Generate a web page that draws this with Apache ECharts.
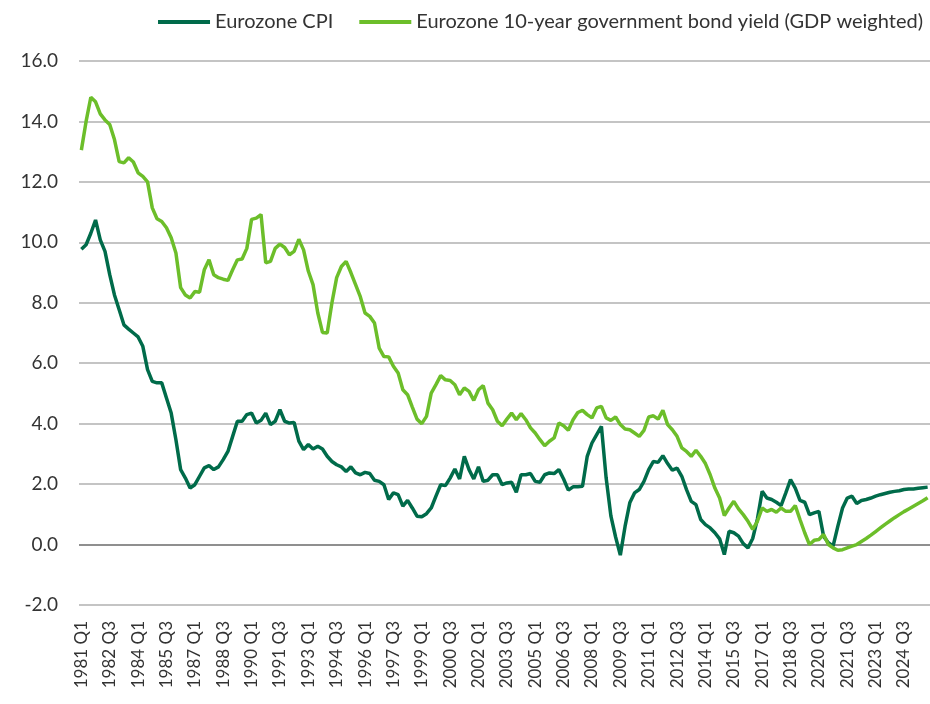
<!DOCTYPE html>
<html>
<head>
<meta charset="utf-8">
<script src="https://cdn.jsdelivr.net/npm/echarts@6/dist/echarts.min.js"></script>
<style>
  html, body { margin: 0; padding: 0; background: #fff; }
  #chart { width: 930px; height: 704px; }
</style>
</head>
<body>
<div id="chart"></div>
<script>
// quarters 1981 Q1 .. 2025 Q4
let quarters = []
for (let y = 1981; y <= 2025; y++) {
  for (let q = 1; q <= 4; q++) quarters.push(y + ' Q' + q)
}

let seriesNames = ['Eurozone CPI', 'Eurozone 10-year government bond yield (GDP weighted)']

let cpi = [
  9.77, 9.92, 10.3, 10.74, 10.08, 9.7, 8.93, 8.26, 7.77, 7.27,
  7.13, 7.0, 6.87, 6.56, 5.79, 5.4, 5.35, 5.35, 4.85, 4.35,
  3.47, 2.48, 2.2, 1.87, 1.98, 2.26, 2.54, 2.61, 2.48, 2.57,
  2.81, 3.08, 3.58, 4.08, 4.08, 4.3, 4.35, 4.02, 4.11, 4.35,
  3.97, 4.08, 4.46, 4.08, 4.02, 4.04, 3.42, 3.14, 3.31, 3.16,
  3.25, 3.16, 2.92, 2.75, 2.64, 2.57, 2.42, 2.57, 2.37, 2.31,
  2.39, 2.35, 2.13, 2.09, 1.98, 1.49, 1.71, 1.65, 1.27, 1.46,
  1.21, 0.94, 0.92, 1.02, 1.21, 1.6, 1.98, 1.95, 2.2, 2.5,
  2.17, 2.92, 2.48, 2.17, 2.57, 2.09, 2.13, 2.31, 2.31, 1.98,
  2.04, 2.06, 1.73, 2.31, 2.31, 2.35, 2.09, 2.06, 2.31, 2.37,
  2.35, 2.48, 2.17, 1.8, 1.91, 1.91, 1.93, 2.92, 3.36, 3.64,
  3.91, 2.2, 0.95, 0.25, -0.35, 0.6, 1.38, 1.71, 1.82, 2.09,
  2.48, 2.75, 2.72, 2.94, 2.68, 2.46, 2.53, 2.26, 1.82, 1.43,
  1.32, 0.83, 0.66, 0.55, 0.39, 0.19, -0.33, 0.44, 0.39, 0.28,
  0.03, -0.11, 0.2, 0.85, 1.76, 1.54, 1.49, 1.4, 1.29, 1.71,
  2.15, 1.87, 1.46, 1.4, 0.99, 1.05, 1.1, 0.27, 0.06, -0.05,
  0.6, 1.21, 1.54, 1.6, 1.36, 1.46, 1.49, 1.54, 1.6, 1.65,
  1.69, 1.73, 1.76, 1.78, 1.82, 1.84, 1.84, 1.86, 1.88, 1.9
]

let bondYield = [
  13.05, 14.0, 14.8, 14.65, 14.25, 14.05, 13.9, 13.4, 12.67, 12.63,
  12.8, 12.66, 12.3, 12.18, 12.0, 11.14, 10.78, 10.69, 10.48, 10.15,
  9.65, 8.5, 8.26, 8.16, 8.37, 8.35, 9.09, 9.42, 8.93, 8.83,
  8.78, 8.74, 9.09, 9.42, 9.45, 9.8, 10.76, 10.8, 10.92, 9.32,
  9.37, 9.8, 9.94, 9.83, 9.59, 9.7, 10.1, 9.75, 9.05, 8.6,
  7.67, 7.02, 7.0, 8.0, 8.83, 9.2, 9.37, 9.0, 8.6, 8.2,
  7.66, 7.55, 7.33, 6.5, 6.22, 6.21, 5.9, 5.68, 5.12, 4.96,
  4.55, 4.15, 4.0, 4.24, 5.01, 5.29, 5.59, 5.45, 5.43, 5.29,
  4.96, 5.18, 5.07, 4.77, 5.12, 5.26, 4.68, 4.46, 4.08, 3.93,
  4.15, 4.35, 4.13, 4.33, 4.13, 3.86, 3.69, 3.47, 3.27, 3.42,
  3.53, 4.02, 3.93, 3.78, 4.13, 4.37, 4.44, 4.3, 4.19, 4.52,
  4.57, 4.19, 4.11, 4.22, 3.97, 3.82, 3.8, 3.69, 3.58, 3.78,
  4.22, 4.26, 4.15, 4.44, 3.97, 3.8, 3.58, 3.2, 3.08, 2.92,
  3.12, 2.92, 2.68, 2.31, 1.87, 1.54, 0.96, 1.21, 1.43, 1.18,
  0.99, 0.77, 0.5, 0.77, 1.21, 1.1, 1.16, 1.07, 1.21, 1.1,
  1.1, 1.29, 0.83, 0.39, 0.0, 0.14, 0.17, 0.33, 0.0, -0.11,
  -0.19, -0.17, -0.11, -0.05, 0.0, 0.1, 0.2, 0.31, 0.43, 0.55,
  0.67, 0.78, 0.89, 0.99, 1.09, 1.18, 1.27, 1.36, 1.45, 1.55
]

let yMin = -2
let yMax = 16
let yStep = 2

const fontFam = 'Lato, "Noto Sans", sans-serif'
const darkGreen = '#006B4A'
const lightGreen = '#6CBE2A'

// grid line colours: the 0.0 line is darker
let gridColors = []
for (let v = yMin; v <= yMax; v += yStep) gridColors.push(v === 0 ? '#8f8f8f' : '#c4c4c4')

let chart = echarts.init(document.getElementById('chart'))
let option = {
  animation: false,
  textStyle: { fontFamily: fontFam },
  legend: {
    right: 2,
    top: 7,
    icon: 'rect',
    itemWidth: 52,
    itemHeight: 4,
    itemGap: 26,
    textStyle: { fontSize: 20, color: '#333', fontFamily: fontFam },
    data: seriesNames
  },
  grid: { left: 79, right: 0, top: 61, bottom: 99, containLabel: false },
  xAxis: {
    type: 'category',
    data: quarters,
    boundaryGap: true,
    axisLine: { show: false },
    axisTick: { show: false },
    axisLabel: {
      interval: 5,
      rotate: 90,
      margin: 16,
      fontSize: 17,
      color: '#333',
      fontFamily: fontFam
    }
  },
  yAxis: {
    type: 'value',
    min: yMin,
    max: yMax,
    interval: yStep,
    axisLine: { show: false },
    axisTick: { show: false },
    axisLabel: {
      margin: 21,
      fontSize: 19,
      color: '#333',
      fontFamily: fontFam,
      formatter: v => v.toFixed(1)
    },
    splitLine: { lineStyle: { color: gridColors, width: 2 } }
  },
  series: [
    {
      name: seriesNames[0],
      type: 'line',
      data: cpi,
      showSymbol: false,
      symbol: 'none',
      itemStyle: { color: darkGreen },
      lineStyle: { color: darkGreen, width: 3.5 }
    },
    {
      name: seriesNames[1],
      type: 'line',
      data: bondYield,
      showSymbol: false,
      symbol: 'none',
      itemStyle: { color: lightGreen },
      lineStyle: { color: lightGreen, width: 3.5 }
    }
  ]
}
chart.setOption(option)
</script>
</body>
</html>
